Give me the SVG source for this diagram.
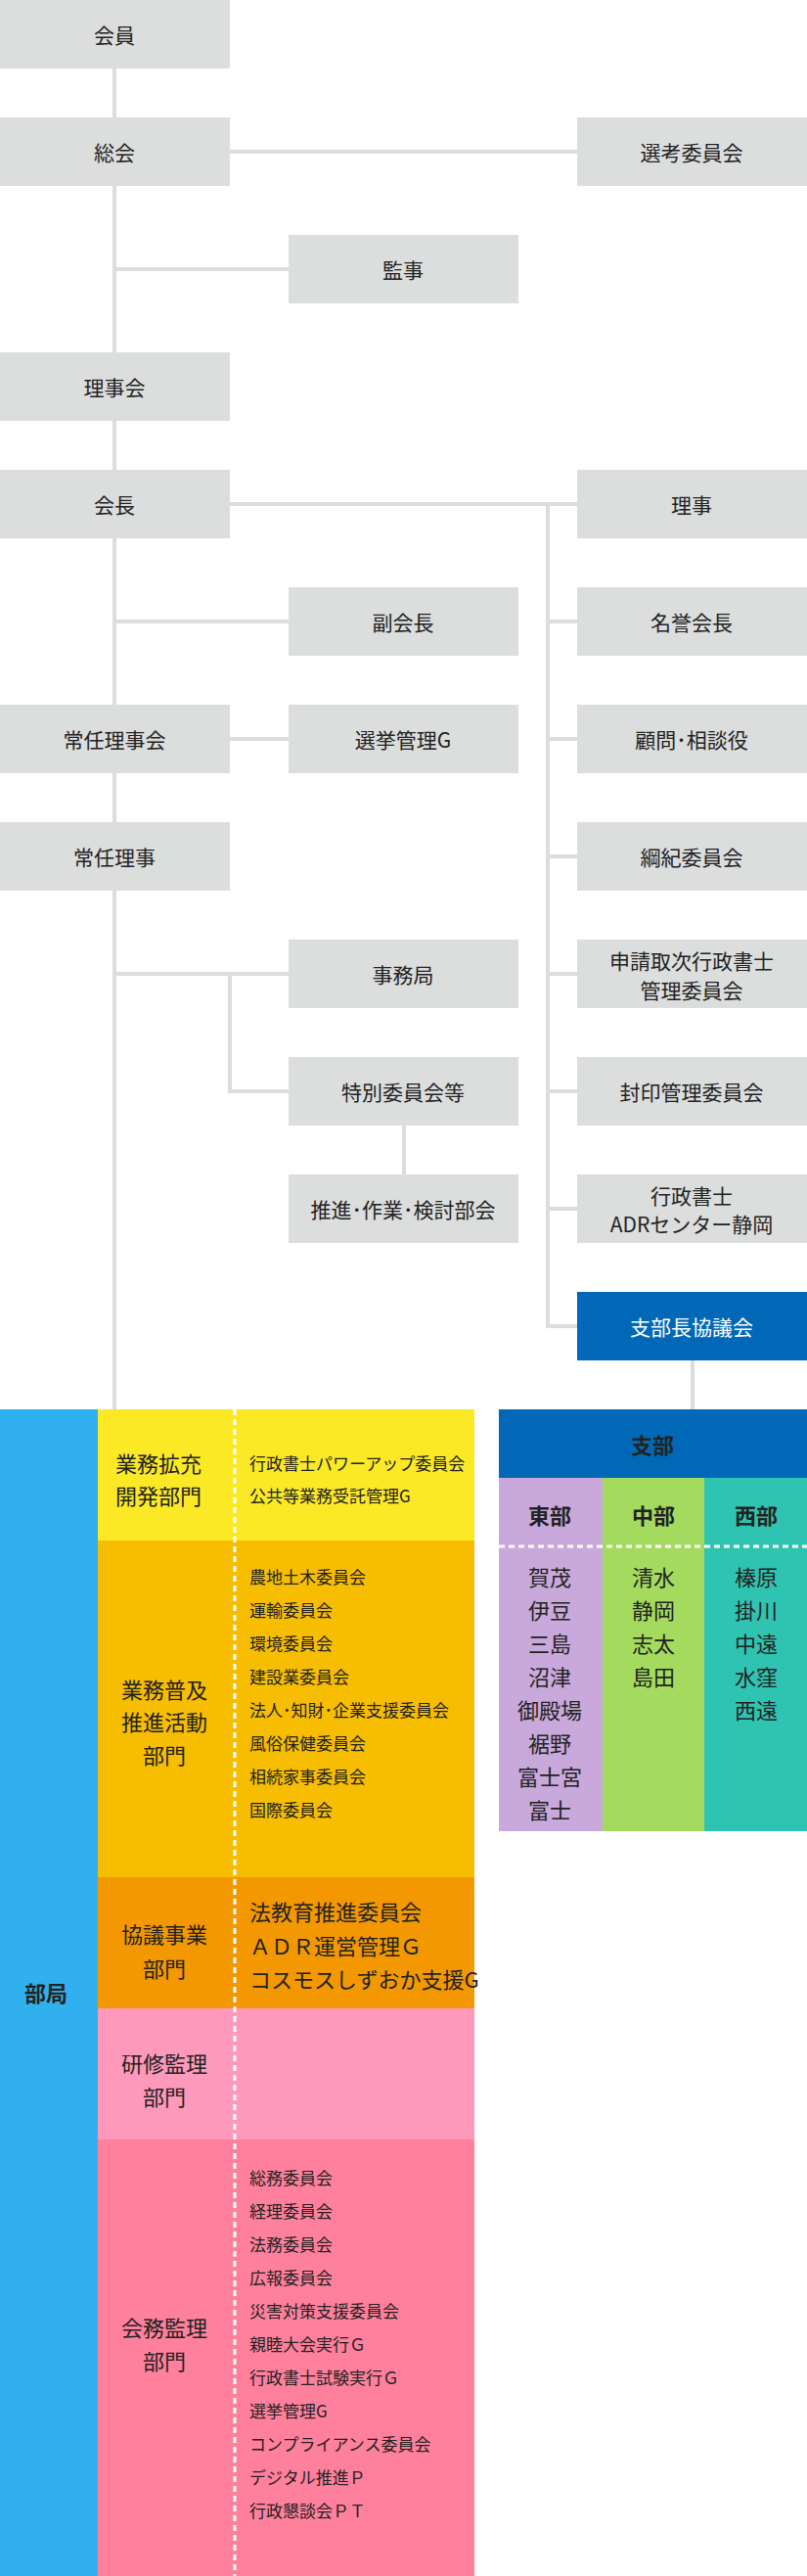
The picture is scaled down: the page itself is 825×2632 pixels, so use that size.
<svg xmlns="http://www.w3.org/2000/svg" width="825" height="2632" viewBox="0 0 825 2632">
<style>
.b{fill:#dcdddd}
.t{font-family:"Noto Sans CJK JP","Noto Sans",sans-serif;font-size:21px;fill:#222;text-anchor:middle;dominant-baseline:central}
.w{fill:#fff}
.bd{font-weight:bold}
.s{font-family:"Noto Sans CJK JP","Noto Sans",sans-serif;font-size:17px;fill:#222;dominant-baseline:central}
.m{font-family:"Noto Sans CJK JP","Noto Sans",sans-serif;font-size:22px;fill:#222;text-anchor:middle;dominant-baseline:central}
.ln{stroke:#dcdddd;stroke-width:4;fill:none}
.dash{stroke:#fff;stroke-width:3;stroke-dasharray:6 4;fill:none}
</style>
<g id="connectors">
<path class="ln" d="M117 70V1440M235 155H590M117 275H295M235 515H590M117 635H295M235 755H295M117 995H295M235 995V1115H295M413 1150V1200M560 515V1355H590M560 635H590M560 755H590M560 875H590M560 995H590M560 1115H590M560 1235H590M708 1390V1440"/>
</g>
<g id="n-kaiin"><rect class="b" x="0" y="0" width="235" height="70"/><text class="t" x="117" y="35">会員</text></g>
<g id="n-sokai"><rect class="b" x="0" y="120" width="235" height="70"/><text class="t" x="117" y="155">総会</text></g>
<g id="n-senko"><rect class="b" x="590" y="120" width="235" height="70"/><text class="t" x="707" y="155">選考委員会</text></g>
<g id="n-kanji"><rect class="b" x="295" y="240" width="235" height="70"/><text class="t" x="412" y="275">監事</text></g>
<g id="n-rijikai"><rect class="b" x="0" y="360" width="235" height="70"/><text class="t" x="117" y="395">理事会</text></g>
<g id="n-kaicho"><rect class="b" x="0" y="480" width="235" height="70"/><text class="t" x="117" y="515">会長</text></g>
<g id="n-riji"><rect class="b" x="590" y="480" width="235" height="70"/><text class="t" x="707" y="515">理事</text></g>
<g id="n-fuku"><rect class="b" x="295" y="600" width="235" height="70"/><text class="t" x="412" y="635">副会長</text></g>
<g id="n-meiyo"><rect class="b" x="590" y="600" width="235" height="70"/><text class="t" x="707" y="635">名誉会長</text></g>
<g id="n-joninkai"><rect class="b" x="0" y="720" width="235" height="70"/><text class="t" x="117" y="755">常任理事会</text></g>
<g id="n-senkyo"><rect class="b" x="295" y="720" width="235" height="70"/><text class="t" x="412" y="755">選挙管理G</text></g>
<g id="n-komon"><rect class="b" x="590" y="720" width="235" height="70"/><text class="t" x="707" y="755">顧問･相談役</text></g>
<g id="n-jonin"><rect class="b" x="0" y="840" width="235" height="70"/><text class="t" x="117" y="875">常任理事</text></g>
<g id="n-koki"><rect class="b" x="590" y="840" width="235" height="70"/><text class="t" x="707" y="875">綱紀委員会</text></g>
<g id="n-jimu"><rect class="b" x="295" y="960" width="235" height="70"/><text class="t" x="412" y="995">事務局</text></g>
<g id="n-shinsei"><rect class="b" x="590" y="960" width="235" height="70"/><text class="t" x="707" y="981">申請取次行政書士</text><text class="t" x="707" y="1011">管理委員会</text></g>
<g id="n-tokubetsu"><rect class="b" x="295" y="1080" width="235" height="70"/><text class="t" x="412" y="1115">特別委員会等</text></g>
<g id="n-fuin"><rect class="b" x="590" y="1080" width="235" height="70"/><text class="t" x="707" y="1115">封印管理委員会</text></g>
<g id="n-suishin"><rect class="b" x="295" y="1200" width="235" height="70"/><text class="t" x="412" y="1235">推進･作業･検討部会</text></g>
<g id="n-adr"><rect class="b" x="590" y="1200" width="235" height="70"/><text class="t" x="707" y="1221">行政書士</text><text class="t" x="707" y="1250">ADRセンター静岡</text></g>
<g id="n-shibucho"><rect x="590" y="1320" width="235" height="70" fill="#0068b7"/><text class="t w" x="707" y="1355">支部長協議会</text></g>

<g id="bukyoku">
<rect x="0" y="1440" width="100" height="1192" fill="#30b0ef"/>
<text class="m bd" x="47" y="2035">部局</text>
<rect x="100" y="1440" width="385" height="134" fill="#fbe925"/>
<rect x="100" y="1574" width="385" height="344" fill="#f7bd00"/>
<rect x="100" y="1918" width="385" height="134" fill="#f39800"/>
<rect x="100" y="2052" width="385" height="134" fill="#ff99bb"/>
<rect x="100" y="2186" width="385" height="446" fill="#ff809d"/>
<path class="dash" d="M240 1440V2632"/>
<text class="m" x="162" y="1494">業務拡充</text><text class="m" x="162" y="1527">開発部門</text>
<text class="s" x="255" y="1494">行政書士パワーアップ委員会</text><text class="s" x="255" y="1527">公共等業務受託管理G</text>
<text class="m" x="168" y="1725">業務普及</text><text class="m" x="168" y="1758">推進活動</text><text class="m" x="168" y="1792">部門</text>
<text class="s" x="255" y="1610">農地土木委員会</text>
<text class="s" x="255" y="1644">運輸委員会</text>
<text class="s" x="255" y="1678">環境委員会</text>
<text class="s" x="255" y="1712">建設業委員会</text>
<text class="s" x="255" y="1746">法人･知財･企業支援委員会</text>
<text class="s" x="255" y="1780">風俗保健委員会</text>
<text class="s" x="255" y="1814">相続家事委員会</text>
<text class="s" x="255" y="1848">国際委員会</text>
<text class="m" x="168" y="1975">協議事業</text><text class="m" x="168" y="2010">部門</text>
<text class="s" x="255" y="1952" style="font-size:22px">法教育推進委員会</text>
<text class="s" x="255" y="1987" style="font-size:22px">ＡＤＲ運営管理Ｇ</text>
<text class="s" x="255" y="2021" style="font-size:22px">コスモスしずおか支援G</text>
<text class="m" x="168" y="2107">研修監理</text><text class="m" x="168" y="2141">部門</text>
<text class="m" x="168" y="2377">会務監理</text><text class="m" x="168" y="2411">部門</text>
<text class="s" x="255" y="2224">総務委員会</text>
<text class="s" x="255" y="2258">経理委員会</text>
<text class="s" x="255" y="2292">法務委員会</text>
<text class="s" x="255" y="2326">広報委員会</text>
<text class="s" x="255" y="2360">災害対策支援委員会</text>
<text class="s" x="255" y="2394">親睦大会実行Ｇ</text>
<text class="s" x="255" y="2428">行政書士試験実行Ｇ</text>
<text class="s" x="255" y="2462">選挙管理G</text>
<text class="s" x="255" y="2496">コンプライアンス委員会</text>
<text class="s" x="255" y="2530">デジタル推進Ｐ</text>
<text class="s" x="255" y="2564">行政懇談会ＰＴ</text>
</g>

<g id="shibu">
<rect x="510" y="1440" width="315" height="70" fill="#0068b7"/>
<text class="m w bd" x="667" y="1475">支部</text>
<rect x="510" y="1510" width="106" height="361" fill="#c9a9db"/>
<rect x="616" y="1510" width="104" height="361" fill="#a4db5e"/>
<rect x="720" y="1510" width="105" height="361" fill="#2fc4b2"/>
<path class="dash" d="M510 1580H825"/>
<text class="m bd" x="562" y="1547">東部</text>
<text class="m bd" x="668" y="1547">中部</text>
<text class="m bd" x="773" y="1547">西部</text>
<text class="m" x="562" y="1610">賀茂</text><text class="m" x="562" y="1644">伊豆</text><text class="m" x="562" y="1678">三島</text><text class="m" x="562" y="1712">沼津</text><text class="m" x="562" y="1746">御殿場</text><text class="m" x="562" y="1780">裾野</text><text class="m" x="562" y="1814">富士宮</text><text class="m" x="562" y="1848">富士</text>
<text class="m" x="668" y="1610">清水</text><text class="m" x="668" y="1644">静岡</text><text class="m" x="668" y="1678">志太</text><text class="m" x="668" y="1712">島田</text>
<text class="m" x="773" y="1610">榛原</text><text class="m" x="773" y="1644">掛川</text><text class="m" x="773" y="1678">中遠</text><text class="m" x="773" y="1712">水窪</text><text class="m" x="773" y="1746">西遠</text>
</g>
</svg>
